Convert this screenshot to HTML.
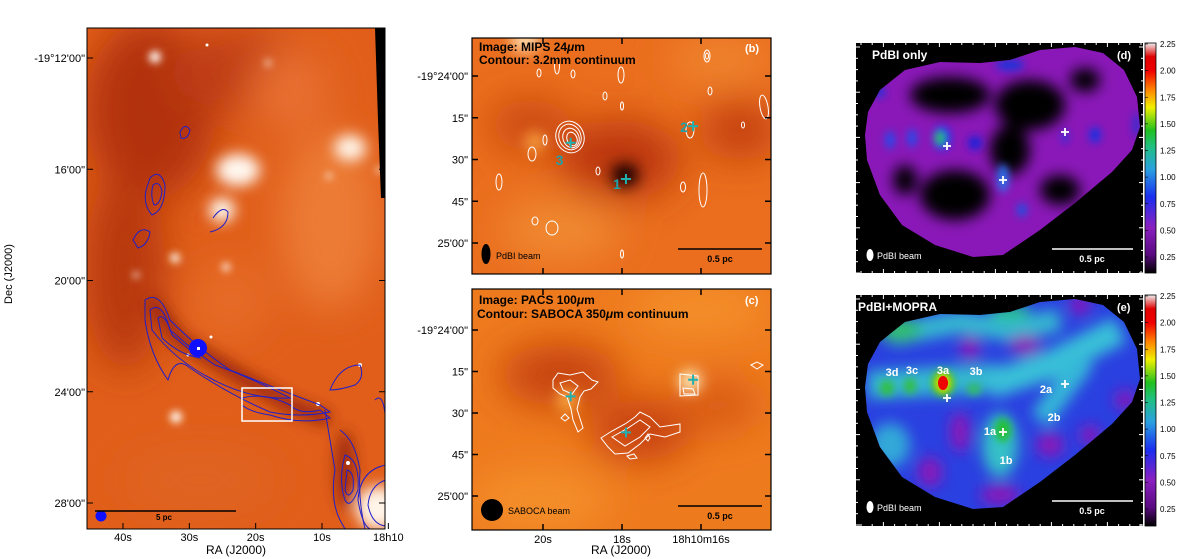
<!DOCTYPE html>
<html><head><meta charset="utf-8"><style>
html,body{margin:0;padding:0;background:#fff;}
svg{display:block;font-family:"Liberation Sans",sans-serif;}
</style></head><body>
<svg id="fig" width="1200" height="559" viewBox="0 0 1200 559" xmlns="http://www.w3.org/2000/svg">
<defs>
  <filter id="b4" x="-50%" y="-50%" width="200%" height="200%"><feGaussianBlur stdDeviation="4"/></filter>
  <filter id="b8" x="-50%" y="-50%" width="200%" height="200%"><feGaussianBlur stdDeviation="7"/></filter>
  <filter id="b25" x="-50%" y="-50%" width="200%" height="200%"><feGaussianBlur stdDeviation="20"/></filter>
  <clipPath id="cA"><rect x="87" y="28" width="298" height="501"/></clipPath>
  <clipPath id="cB"><rect x="472" y="38" width="299" height="236"/></clipPath>
  <clipPath id="cC"><rect x="472" y="289" width="299" height="241"/></clipPath>
  <clipPath id="cD"><path d="M868,112 L880,90 L905,70 L940,62 L980,63 L1010,60 L1040,50 L1075,47 L1103,53 L1124,70 L1137,97 L1140,127 L1132,150 L1112,172 L1075,203 L1040,230 L1003,255 L973,257 L935,245 L902,225 L880,195 L867,160 L865,135 Z"/></clipPath>
  <clipPath id="cE"><path d="M868,364 L880,342 L905,322 L940,314 L980,315 L1010,312 L1040,302 L1075,299 L1103,305 L1124,322 L1137,349 L1140,379 L1132,402 L1112,424 L1075,455 L1040,482 L1003,507 L973,509 L935,497 L902,477 L880,447 L867,412 L865,387 Z"/></clipPath>
  <linearGradient id="cbar" x1="0" y1="1" x2="0" y2="0">
    <stop offset="0" stop-color="#000"/><stop offset="0.08" stop-color="#5a0a80"/>
    <stop offset="0.2" stop-color="#8a20c0"/><stop offset="0.33" stop-color="#1a2ef0"/>
    <stop offset="0.45" stop-color="#2aa0e0"/><stop offset="0.55" stop-color="#20c080"/>
    <stop offset="0.62" stop-color="#20c020"/><stop offset="0.72" stop-color="#f0f000"/>
    <stop offset="0.8" stop-color="#ff8000"/><stop offset="0.88" stop-color="#f00000"/>
    <stop offset="0.94" stop-color="#e00000"/><stop offset="1" stop-color="#f0f0f0"/>
  </linearGradient>
</defs>

<!-- ============ PANEL A ============ -->
<g>
  <g clip-path="url(#cA)">
    <rect x="87" y="28" width="298" height="501" fill="#e05e1a"/>
    <g filter="url(#b25)">
      <ellipse cx="150" cy="110" rx="65" ry="90" fill="#b2300c"/>
      <ellipse cx="240" cy="70" rx="70" ry="40" fill="#c03e12"/>
      <ellipse cx="125" cy="270" rx="40" ry="100" fill="#b83810"/>
      <ellipse cx="330" cy="220" rx="50" ry="90" fill="#ec7c34"/>
      <ellipse cx="290" cy="90" rx="40" ry="40" fill="#e87030"/>
      <ellipse cx="200" cy="480" rx="80" ry="35" fill="#e06420"/>
      <ellipse cx="230" cy="300" rx="40" ry="40" fill="#e66c26"/>
    </g>
    <g filter="url(#b8)">
      <path d="M150,300 L180,340 L230,370 L290,405 L330,420" stroke="#9a260a" stroke-width="14" fill="none"/>
      <ellipse cx="238" cy="170" rx="22" ry="16" fill="#fff8f0"/>
      <ellipse cx="350" cy="148" rx="16" ry="13" fill="#fff4e8"/>
      <ellipse cx="222" cy="210" rx="13" ry="12" fill="#fffaf0"/>
      <ellipse cx="378" cy="508" rx="22" ry="22" fill="#fff4e8"/>
      <ellipse cx="345" cy="470" rx="10" ry="40" fill="#a02a0a"/>
    </g>
    <g fill="#fff8f0" filter="url(#b4)">
      <circle cx="155" cy="57" r="6"/><circle cx="175" cy="258" r="5"/>
      <circle cx="226" cy="267" r="4"/><circle cx="176" cy="417" r="6"/>
      <circle cx="136" cy="275" r="3"/><circle cx="329" cy="176" r="3"/>
      <circle cx="379" cy="170" r="3"/><circle cx="268" cy="63" r="3"/>
    </g>
    <g fill="#fff">
      <circle cx="207" cy="45" r="1.5"/><circle cx="188" cy="355" r="1.5"/><circle cx="318" cy="404" r="2"/>
      <circle cx="360" cy="365" r="2"/><circle cx="348" cy="463" r="2"/><circle cx="211" cy="337" r="1.5"/>
    </g>
    <path d="M375,28 L386,28 L386,198 L381,198 L378,120 Z" fill="#000"/>
    <g fill="none" stroke="#2020c8" stroke-width="1">
      <path d="M180,132 Q185,122 190,130 Q188,140 181,138 Z"/>
      <path d="M150,178 Q160,168 165,185 Q165,210 152,215 Q143,205 146,190 Z"/>
      <path d="M153,185 Q160,180 162,192 Q160,205 154,205 Q150,195 153,185 Z"/>
      <path d="M213,218 Q222,205 228,212 Q228,228 210,232"/>
      <path d="M133,240 Q140,225 150,232 Q148,245 138,248 Z"/>
      <path d="M145,300 Q160,290 170,320 Q200,350 230,370 Q280,390 320,405 L330,412 Q300,418 270,412 Q230,395 190,368 Q175,355 168,380 Q150,355 145,320 Z"/>
      <path d="M150,310 Q162,300 170,330 Q195,352 215,365 Q245,375 290,398 Q250,400 210,378 Q175,360 152,330 Z"/>
      <path d="M158,318 Q165,312 172,335 Q190,350 200,358 Q180,355 162,338 Z"/>
      <path d="M242,398 Q265,392 290,405 Q300,415 320,410 L330,418 Q300,425 270,415 Q250,412 242,405 Z"/>
      <path d="M330,390 Q340,365 360,365 Q365,378 355,385 Q340,390 330,390 Z"/>
      <path d="M375,400 Q385,390 386,430"/>
      <path d="M325,410 Q330,440 335,470 Q330,500 340,520 Q345,529 345,529"/>
      <path d="M340,430 Q355,440 360,470 Q358,500 365,529"/>
      <path d="M345,455 Q360,460 358,490 Q350,510 345,500 Q338,480 345,455 Z"/>
      <path d="M347,470 Q355,472 353,490 Q348,500 345,490 Z"/>
      <path d="M386,480 Q370,485 368,505 Q372,525 386,526"/>
      <path d="M386,465 Q360,470 358,500 Q362,525 370,529"/>
    </g>
    <circle cx="198" cy="348" r="9" fill="#1010ff"/>
    <rect x="197" y="347" width="3" height="3" fill="#fff"/>
    <rect x="242" y="388" width="50" height="33" fill="none" stroke="#fff" stroke-width="1.5"/>
    <circle cx="101" cy="516" r="5.5" fill="#1010ff"/>
    <line x1="95" y1="511" x2="236" y2="511" stroke="#000" stroke-width="1.5"/>
    <text x="156" y="520" font-size="8" font-weight="bold" fill="#000">5 pc</text>
    <text x="375" y="42" font-size="11" font-weight="bold" fill="#000">(a)</text>
  </g>
  <rect x="87" y="28" width="298" height="501" fill="none" stroke="#000" stroke-width="1"/>
  <g id="ticksA"></g>
  <text x="10" y="272" font-size="11" transform="rotate(-90 12 272)" text-anchor="middle" fill="#000">Dec (J2000)</text>
  <text x="236" y="554" font-size="12" text-anchor="middle" fill="#000">RA (J2000)</text>
</g>

<!-- ============ PANEL B ============ -->
<g>
  <g clip-path="url(#cB)">
    <rect x="472" y="38" width="299" height="236" fill="#ea6e1e"/>
    <g filter="url(#b25)">
      <ellipse cx="620" cy="160" rx="60" ry="40" fill="#bb360a"/>
      <ellipse cx="530" cy="125" rx="40" ry="25" fill="#c8440e"/>
      <ellipse cx="740" cy="130" rx="40" ry="30" fill="#c4400e"/>
      <ellipse cx="560" cy="230" rx="60" ry="30" fill="#f08a30"/>
      <ellipse cx="720" cy="60" rx="50" ry="20" fill="#f08830"/>
    </g>
    <g filter="url(#b8)">
      <ellipse cx="625" cy="175" rx="14" ry="12" fill="#1a0500"/>
      <ellipse cx="525" cy="40" rx="15" ry="12" fill="#ffd8a8"/>
      <ellipse cx="535" cy="142" rx="10" ry="10" fill="#f8a040"/>
    </g>
    <g fill="none" stroke="#fff" stroke-width="1">
      <ellipse cx="570" cy="137" rx="14" ry="16" transform="rotate(-20 570 137)"/>
      <ellipse cx="570" cy="137" rx="11" ry="13" transform="rotate(-20 570 137)"/>
      <ellipse cx="571" cy="138" rx="8" ry="10" transform="rotate(-20 571 138)"/>
      <ellipse cx="572" cy="139" rx="5" ry="7" transform="rotate(-20 572 139)"/>
      <ellipse cx="690" cy="130" rx="4" ry="8"/>
      <ellipse cx="707" cy="56" rx="3" ry="6"/><ellipse cx="707" cy="56" rx="1.5" ry="3"/>
      <ellipse cx="764" cy="107" rx="4" ry="12" transform="rotate(-10 764 107)"/>
      <ellipse cx="703" cy="190" rx="4" ry="17"/>
      <ellipse cx="683" cy="187" rx="2.5" ry="5"/>
      <ellipse cx="532" cy="154" rx="4" ry="7"/>
      <ellipse cx="499" cy="182" rx="3" ry="8"/>
      <ellipse cx="552" cy="228" rx="6" ry="7"/>
      <ellipse cx="535" cy="221" rx="3" ry="4"/>
      <ellipse cx="545" cy="140" rx="2" ry="5"/>
      <ellipse cx="622" cy="254" rx="1.5" ry="4"/>
      <ellipse cx="622" cy="106" rx="1.5" ry="4"/>
      <ellipse cx="557" cy="66" rx="2.5" ry="8"/>
      <ellipse cx="621" cy="75" rx="3" ry="8"/>
      <ellipse cx="605" cy="96" rx="2" ry="4"/>
      <ellipse cx="573" cy="74" rx="2" ry="4"/>
      <ellipse cx="710" cy="91" rx="2" ry="4"/>
      <ellipse cx="743" cy="125" rx="1.5" ry="3"/>
      <ellipse cx="598" cy="171" rx="2" ry="4"/>
      <ellipse cx="539" cy="73" rx="2" ry="4"/>
    </g>
    <g id="srcB"></g>
    <text x="479" y="51" font-size="12" font-weight="bold" fill="#000">Image: MIPS 24<tspan font-style="italic">μ</tspan>m</text>
    <text x="479" y="64" font-size="12" font-weight="bold" fill="#000">Contour: 3.2mm continuum</text>
    <text x="745" y="52" font-size="11" font-weight="bold" fill="#fff">(b)</text>
    <ellipse cx="486" cy="254" rx="4.5" ry="10" fill="#000"/>
    <text x="496" y="259" font-size="9" fill="#000">PdBI beam</text>
    <line x1="678" y1="249" x2="762" y2="249" stroke="#000" stroke-width="1.5"/>
    <text x="720" y="262" font-size="9" font-weight="bold" text-anchor="middle" fill="#000">0.5 pc</text>
  </g>
  <rect x="472" y="38" width="299" height="236" fill="none" stroke="#000" stroke-width="1.2"/>
  <g id="ticksB"></g>
</g>

<!-- ============ PANEL C ============ -->
<g>
  <g clip-path="url(#cC)">
    <rect x="472" y="289" width="299" height="241" fill="#ee7a1e"/>
    <g filter="url(#b25)">
      <ellipse cx="560" cy="375" rx="60" ry="30" fill="#c44010"/>
      <ellipse cx="640" cy="430" rx="50" ry="30" fill="#c43e10"/>
      <ellipse cx="720" cy="405" rx="40" ry="25" fill="#d85818"/>
      <ellipse cx="700" cy="310" rx="70" ry="25" fill="#f4902c"/>
      <ellipse cx="540" cy="500" rx="70" ry="30" fill="#f4902c"/>
    </g>
    <g filter="url(#b8)">
      <ellipse cx="690" cy="381" rx="11" ry="11" fill="#fff0c0"/>
      <ellipse cx="567" cy="400" rx="10" ry="12" fill="#f8a840"/>
    </g>
    <g fill="none" stroke="#fff" stroke-width="1" transform="translate(0,-16)">
      <path d="M553,396 L558,389 L570,391 L583,388 L592,396 L598,398 L591,405 L584,407 L580,413 L577,425 L583,444 L578,448 L573,436 L571,425 L567,413 L560,410 L553,404 Z"/>
      <path d="M560,399 L570,396 L578,402 L572,410 L563,406 Z"/>
      <g transform="translate(0,-12)">
      <path d="M601,466 L612,459 L625,452 L635,445 L640,440 L650,445 L660,455 L680,452 L680,460 L665,465 L650,462 L640,472 L628,481 L615,482 L608,475 Z"/>
      <path d="M612,465 L628,456 L640,448 L650,455 L640,465 L625,474 Z"/>
      <path d="M627,484 L634,482 L637,486 L630,487 Z"/>
      <path d="M645,466 L648,462 L650,466 L648,469 Z"/>
      </g>
      <path d="M680,390 L698,392 L698,411 L680,412 Z"/>
      <path d="M683,404 L693,405 L695,410 L684,410 Z"/>
      <path d="M751,381 L757,378 L763,381 L757,385 Z"/>
      <path d="M561,434 L565,430 L569,434 L565,437 Z"/>
    </g>
    <g id="srcC"></g>
    <text x="479" y="304" font-size="12" font-weight="bold" fill="#000">Image: PACS 100<tspan font-style="italic">μ</tspan>m</text>
    <text x="477" y="318" font-size="12" font-weight="bold" fill="#000">Contour: SABOCA 350<tspan font-style="italic">μ</tspan>m continuum</text>
    <text x="745" y="304" font-size="11" font-weight="bold" fill="#fff">(c)</text>
    <circle cx="492" cy="510" r="11" fill="#000"/>
    <text x="508" y="514" font-size="9" fill="#000">SABOCA beam</text>
    <line x1="678" y1="506" x2="762" y2="506" stroke="#000" stroke-width="1.5"/>
    <text x="720" y="519" font-size="9" font-weight="bold" text-anchor="middle" fill="#000">0.5 pc</text>
  </g>
  <rect x="472" y="289" width="299" height="241" fill="none" stroke="#000" stroke-width="1.2"/>
  <g id="ticksC"></g>
  <text x="621" y="554" font-size="12" text-anchor="middle" fill="#000">RA (J2000)</text>
</g>

<!-- ============ PANEL D ============ -->
<g>
  <rect x="856" y="43" width="287" height="230" fill="#000"/>
  <g clip-path="url(#cD)">
    <rect x="856" y="43" width="287" height="230" fill="#8a18b8"/>
    <g filter="url(#b8)" fill="#000">
      <ellipse cx="950" cy="95" rx="40" ry="18"/>
      <ellipse cx="1030" cy="105" rx="35" ry="25"/>
      <ellipse cx="1010" cy="150" rx="20" ry="25"/>
      <ellipse cx="955" cy="195" rx="35" ry="25"/>
      <ellipse cx="1060" cy="190" rx="20" ry="15"/>
      <ellipse cx="1085" cy="80" rx="15" ry="12"/>
      <ellipse cx="905" cy="180" rx="12" ry="15"/>
    </g>
    <g filter="url(#b4)">
      <ellipse cx="890" cy="140" rx="5" ry="9" fill="#2848e8"/>
      <ellipse cx="912" cy="138" rx="5" ry="9" fill="#2848e8"/>
      <ellipse cx="942" cy="138" rx="9" ry="12" fill="#1838f0"/>
      <ellipse cx="940" cy="138" rx="5" ry="7" fill="#30c040"/>
      <ellipse cx="975" cy="143" rx="7" ry="7" fill="#1a20d8"/>
      <ellipse cx="1003" cy="178" rx="6" ry="14" fill="#2a70e8"/>
      <ellipse cx="1022" cy="210" rx="5" ry="7" fill="#2050e0"/>
      <ellipse cx="1095" cy="135" rx="6" ry="8" fill="#1a30e0"/>
      <ellipse cx="1065" cy="137" rx="3" ry="6" fill="#1a30e0"/>
      <ellipse cx="1010" cy="65" rx="14" ry="6" fill="#2030d8"/>
      <ellipse cx="880" cy="92" rx="5" ry="6" fill="#2030d8"/>
      <ellipse cx="1136" cy="125" rx="3" ry="12" fill="#2030d8"/>
    </g>
  </g>
  <g id="srcD"></g>
  <text x="872" y="59" font-size="12" font-weight="bold" fill="#fff">PdBI only</text>
  <text x="1117" y="59" font-size="11" font-weight="bold" fill="#fff">(d)</text>
  <ellipse cx="870" cy="255" rx="3.5" ry="6" fill="#fff"/>
  <text x="877" y="259" font-size="9" fill="#fff">PdBI beam</text>
  <line x1="1052" y1="249" x2="1133" y2="249" stroke="#fff" stroke-width="1.5"/>
  <text x="1092" y="262" font-size="9" font-weight="bold" text-anchor="middle" fill="#fff">0.5 pc</text>
  <g id="ticksD"></g>
</g>

<!-- ============ PANEL E ============ -->
<g>
  <rect x="856" y="295" width="287" height="231" fill="#000"/>
  <g clip-path="url(#cE)">
    <rect x="856" y="295" width="287" height="231" fill="#2a40e0"/>
    <g filter="url(#b8)">
      <path d="M868,385 L960,380 L1000,378" stroke="#34b8d0" stroke-width="28" fill="none"/>
      <path d="M990,385 L1050,365 L1120,330" stroke="#38c0d8" stroke-width="28" fill="none"/>
      <path d="M1040,420 L1085,360" stroke="#34b8d8" stroke-width="22" fill="none"/>
      <path d="M890,335 L960,322 L1010,330 L1060,320" stroke="#34b8d0" stroke-width="22" fill="none"/>
      <ellipse cx="1000" cy="445" rx="18" ry="32" fill="#34c0c8"/>
      <ellipse cx="890" cy="445" rx="20" ry="22" fill="#30a8d8"/>
      <ellipse cx="1010" cy="312" rx="20" ry="8" fill="#28c088"/>
      <ellipse cx="900" cy="330" rx="22" ry="12" fill="#30c070"/>
      <ellipse cx="960" cy="432" rx="10" ry="20" fill="#8a18b8"/>
      <ellipse cx="930" cy="472" rx="12" ry="15" fill="#8a18b8"/>
      <ellipse cx="1025" cy="345" rx="16" ry="10" fill="#8a18b8"/>
      <ellipse cx="1080" cy="305" rx="10" ry="10" fill="#8a18b8"/>
      <ellipse cx="1050" cy="445" rx="14" ry="12" fill="#8a18b8"/>
      <ellipse cx="1090" cy="435" rx="10" ry="10" fill="#8a18b8"/>
      <ellipse cx="1000" cy="495" rx="20" ry="10" fill="#8a18b8"/>
      <ellipse cx="970" cy="348" rx="10" ry="12" fill="#8a18b8"/>
      <ellipse cx="1125" cy="400" rx="10" ry="10" fill="#8a18b8"/>
    </g>
    <g filter="url(#b4)">
      <ellipse cx="887" cy="388" rx="7" ry="8" fill="#30c040"/>
      <ellipse cx="910" cy="386" rx="6" ry="8" fill="#30c040"/>
      <ellipse cx="974" cy="389" rx="7" ry="6" fill="#30c060"/>
      <ellipse cx="1003" cy="430" rx="8" ry="12" fill="#20c030"/>
      <ellipse cx="943" cy="383" rx="11" ry="13" fill="#20c020"/>
    </g>
    <ellipse cx="943" cy="383" rx="8" ry="10" fill="#f0e000" filter="url(#b4)"/>
    <ellipse cx="943" cy="383" rx="5" ry="7" fill="#f00000"/>
  </g>
  <g id="srcE"></g>
  <text x="858" y="311" font-size="12" font-weight="bold" fill="#fff">PdBI+MOPRA</text>
  <text x="1117" y="311" font-size="11" font-weight="bold" fill="#fff">(e)</text>
  <ellipse cx="870" cy="507" rx="3.5" ry="6" fill="#fff"/>
  <text x="877" y="511" font-size="9" fill="#fff">PdBI beam</text>
  <line x1="1052" y1="501" x2="1133" y2="501" stroke="#fff" stroke-width="1.5"/>
  <text x="1092" y="514" font-size="9" font-weight="bold" text-anchor="middle" fill="#fff">0.5 pc</text>
  <g id="ticksE"></g>
</g>

<g>
  <rect x="1145" y="43" width="11" height="230" fill="url(#cbar)" stroke="#000" stroke-width="0.8"/>
  <g id="cbD"></g>
</g>
<g>
  <rect x="1145" y="295" width="11" height="231" fill="url(#cbar)" stroke="#000" stroke-width="0.8"/>
  <g id="cbE"></g>
</g>
</svg>

<script>
const NS = "http://www.w3.org/2000/svg";
const decLabelsA = ["-19°12'00\"", "16'00\"", "20'00\"", "24'00\"", "28'00\""];
const decValuesA = [12, 16, 20, 24, 28];
const raLabelsA = ["40s", "30s", "20s", "10s", "18h10"];
const raValuesA = [40, 30, 20, 10, 0];
const decLabelsBC = ["-19°24'00\"", "15\"", "30\"", "45\"", "25'00\""];
const decValuesBC = [0, 15, 30, 45, 60];
const raLabelsBC = ["20s", "18s", "18h10m16s"];
const raValuesBC = [20, 18, 16];
const cbarLabels = ["2.25", "2.00", "1.75", "1.50", "1.25", "1.00", "0.75", "0.50", "0.25"];
const cbarValues = [2.25, 2.00, 1.75, 1.50, 1.25, 1.00, 0.75, 0.50, 0.25];
const srcNames = ["1", "2", "3"];
const srcRA = [17.9, 16.2, 19.3];
const srcDec = [37, 18, 24];
const subNames = ["3d","3c","3a","3b","2a","2b","1a","1b"];
const subX = [892, 912, 943, 976, 1046, 1054, 990, 1006];
const subY = [376, 374, 374, 375, 393, 421, 435, 464];
const crossX = [947, 1003, 1065];
const crossY = [146, 180, 132];

const yA = d => 58 + (d - 12) * (503 - 58) / 16;
const xA = s => 123 + (40 - s) * (322 - 123) / 30;
const yB = d => 76 + d * (243 - 76) / 60;
const yC = d => 330 + d * (496 - 330) / 60;
const xBC = s => 543 + (20 - s) * (701 - 543) / 4;
const yCbD = v => 44 + (2.25 - v) * (257 - 44) / 2.0;
const yCbE = v => 296 + (2.25 - v) * (509 - 296) / 2.0;

function el(tag, attrs, parent, txt) {
  const e = document.createElementNS(NS, tag);
  for (const k in attrs) e.setAttribute(k, attrs[k]);
  if (txt !== undefined) e.textContent = txt;
  parent.appendChild(e);
  return e;
}

(function(){
  const g = document.getElementById('ticksA');
  decValuesA.forEach((d, i) => {
    const y = yA(d);
    const t = el('line', {x1:87, x2:93, y1:y, y2:y, stroke:'#000'}, g);
    
    
    el('line', {x1:379, x2:385, y1:y, y2:y, stroke:'#000'}, g);
    const tx = el('text', {x:85, y:y+4, 'font-size':11, 'text-anchor':'end', fill:'#000'}, g, decLabelsA[i]);
    
    
  });
  raValuesA.forEach((s, i) => {
    const x = xA(s);
    el('line', {x1:x, x2:x, y1:529, y2:523, stroke:'#000'}, g);
    const tx = el('text', {x:x, y:541, 'font-size':11, 'text-anchor':'middle', fill:'#000'}, g, raLabelsA[i]);
    
    
  });
})();

function ticksBC(id, yf, top, bot, showX) {
  const g = document.getElementById(id);
  decValuesBC.forEach((d, i) => {
    const y = yf(d);
    el('line', {x1:472, x2:478, y1:y, y2:y, stroke:'#000', 'stroke-width':1.5}, g);
    el('line', {x1:765, x2:771, y1:y, y2:y, stroke:'#000', 'stroke-width':1.5}, g);
    const tx = el('text', {x:468, y:y+4, 'font-size':11, 'text-anchor':'end', fill:'#000'}, g, decLabelsBC[i]);
    
    
  });
  raValuesBC.forEach((s, i) => {
    const x = xBC(s);
    el('line', {x1:x, x2:x, y1:bot, y2:bot-6, stroke:'#000', 'stroke-width':1.5}, g);
    el('line', {x1:x, x2:x, y1:top, y2:top+6, stroke:'#000', 'stroke-width':1.5}, g);
    if (showX) {
      const tx = el('text', {x:x, y:543, 'font-size':11, 'text-anchor':'middle', fill:'#000'}, g, raLabelsBC[i]);
      
      
    }
  });
}
ticksBC('ticksB', yB, 38, 274, false);
ticksBC('ticksC', yC, 289, 530, true);

function crosses(id, yf, labels) {
  const g = document.getElementById(id);
  srcNames.forEach((n, i) => {
    const x = xBC(srcRA[i]), y = yf(srcDec[i]);
    const c = el('path', {d:`M${x-5},${y}H${x+5}M${x},${y-5}V${y+5}`, stroke:'#20b0b0', 'stroke-width':2}, g);
    
    
    if (labels) {
      const off = [[-13, 10], [-13, 6], [-15, 22]][i];
      const t = el('text', {x:x+off[0], y:y+off[1], 'font-size':14, 'font-weight':'bold', fill:'#20a0a8'}, g, n);
      
      
    }
  });
}
crosses('srcB', yB, true);
crosses('srcC', yC, false);

function wcross(id, dy) {
  const g = document.getElementById(id);
  crossX.forEach((x, i) => {
    const y = crossY[i] + dy;
    const c = el('path', {d:`M${x-4},${y}H${x+4}M${x},${y-4}V${y+4}`, stroke:'#fff', 'stroke-width':1.8}, g);
    
    
  });
}
wcross('srcD', 0);
wcross('srcE', 252);
(function(){
  const g = document.getElementById('srcE');
  subNames.forEach((n, i) => {
    const t = el('text', {x:subX[i], y:subY[i], 'font-size':11, 'font-weight':'bold', 'text-anchor':'middle', fill:'#fff'}, g, n);
    
    
  });
})();

function frameTicks(id, top, bot) {
  const g = document.getElementById(id);
  for (let k = 0; k < 26; k++) {
    const x = 861 + k * 11.2;
    const big = k % 5 === 2;
    el('line', {x1:x, x2:x, y1:top, y2:top+(big?4:2), stroke:'#fff'}, g);
    el('line', {x1:x, x2:x, y1:bot, y2:bot-(big?4:2), stroke:'#fff'}, g);
  }
  for (let k = 0; k < 21; k++) {
    const y = top + 4 + k * 11.3;
    if (y > bot) break;
    const big = k % 4 === 0;
    el('line', {x1:856, x2:856+(big?4:2), y1:y, y2:y, stroke:'#fff'}, g);
    el('line', {x1:1143, x2:1143-(big?4:2), y1:y, y2:y, stroke:'#fff'}, g);
  }
}
frameTicks('ticksD', 43, 273);
frameTicks('ticksE', 295, 526);

function cb(id, yf) {
  const g = document.getElementById(id);
  cbarValues.forEach((v, i) => {
    const y = yf(v);
    el('line', {x1:1145, x2:1148, y1:y, y2:y, stroke:'#000', 'stroke-width':0.6}, g);
    const t = el('text', {x:1160, y:y+3, 'font-size':8, fill:'#000'}, g, cbarLabels[i]);
    
    
  });
}
cb('cbD', yCbD);
cb('cbE', yCbE);
</script>
</body></html>
